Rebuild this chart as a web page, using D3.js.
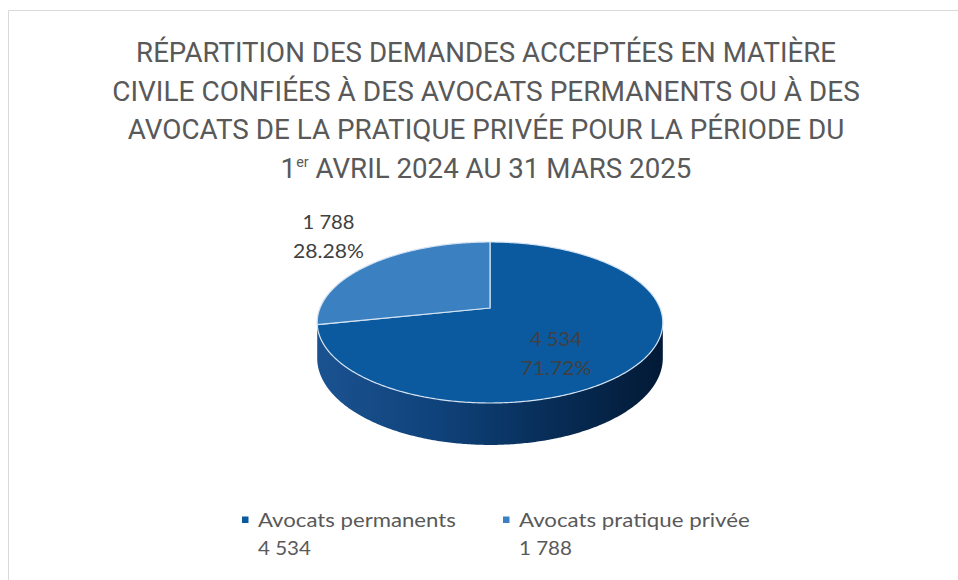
<!DOCTYPE html>
<html>
<head>
<meta charset="utf-8">
<script src="https://cdn.jsdelivr.net/npm/d3@7"></script>
<style>
  body { margin: 0; background: #fff; }
  text { font-family: Lato, "Open Sans", sans-serif; }
</style>
</head>
<body>
<svg id="chart" width="958" height="580"></svg>
<script>
// data
var categories = ["Avocats permanents", "Avocats pratique privée"];
var values = [4534, 1788];
var sliceColors = ["#0b5aa0", "#3b81c2"];
var titleLines = [
  "RÉPARTITION DES DEMANDES ACCEPTÉES EN MATIÈRE",
  "CIVILE CONFIÉES À DES AVOCATS PERMANENTS OU À DES",
  "AVOCATS DE LA PRATIQUE PRIVÉE POUR LA PÉRIODE DU",
  ["1", "er", " AVRIL 2024 AU 31 MARS 2025"]
];

var fr = d3.formatLocale({ decimal: ".", thousands: " ", grouping: [3], currency: ["", ""] });
var fmtNum = fr.format(",d");
var fmtPct = d3.format(".2%");
var total = d3.sum(values);

var svg = d3.select("#chart");

// outer frame (only top and left edges show)
svg.append("path")
  .attr("d", "M8.5,580V10.5H958")
  .attr("fill", "none")
  .attr("stroke", "#d9d9d9")
  .attr("stroke-width", 1);

// squeeze a text horizontally so it fills a given width
function fitWidth(t, x, y, w) {
  var bw = t.node().getBBox().width;
  t.attr("transform", "translate(" + x + "," + y + ") scale(" + (w / bw) + ",1)");
}

// title
var titleX = 486;
var titleBase = [62, 100.7, 139.3, 178];
var titleWidths = [700, 748, 717, 411];
titleLines.forEach(function(line, i) {
  var t = svg.append("text")
    .attr("text-anchor", "middle")
    .style("font-family", "Roboto, sans-serif")
    .style("font-size", "27px")
    .attr("fill", "#595959");
  if (typeof line === "string") {
    t.text(line);
  } else {
    t.append("tspan").text(line[0]);
    t.append("tspan").attr("dy", -11).style("font-size", "14px").text(line[1]);
    t.append("tspan").attr("dy", 11).text(line[2]);
  }
  fitWidth(t, titleX, titleBase[i], titleWidths[i]);
});

// 3d pie with a bit of perspective
var cx = 490, cy = 308, rx = 170, ry = 77.9, persp = 0.18, depth = 34.4;
function project(angle, r, drop) {
  var u = r * Math.sin(angle), v = -r * Math.cos(angle);
  var d = 1 - persp * v;
  return [cx + rx * u / d, cy + (ry * v + (drop || 0)) / d];
}
function arcPoints(a0, a1, drop) {
  var n = Math.max(2, Math.ceil((a1 - a0) / 0.01));
  return d3.range(n + 1).map(function(i) { return project(a0 + (a1 - a0) * i / n, 1, drop); });
}

var pie = d3.pie().sort(null).value(function(d) { return d; });
var arcs = pie(values);
var line = d3.line();

// side shading
var defs = svg.append("defs");
var grad = defs.append("linearGradient")
  .attr("id", "sideGrad")
  .attr("gradientUnits", "userSpaceOnUse")
  .attr("x1", cx - rx).attr("x2", cx + rx).attr("y1", 0).attr("y2", 0);
grad.selectAll("stop")
  .data([[0, "#1a5290"], [0.35, "#0f427a"], [0.7, "#072c55"], [1, "#021a36"]])
  .join("stop")
  .attr("offset", function(d) { return d[0]; })
  .attr("stop-color", function(d) { return d[1]; });

// visible front of the rim
var rimStart = Math.acos(-persp), rimEnd = 2 * Math.PI - Math.acos(-persp);
var gPie = svg.append("g");

arcs.forEach(function(a) {
  var s = Math.max(a.startAngle, rimStart), e = Math.min(a.endAngle, rimEnd);
  if (e <= s) return;
  var top = arcPoints(s, e, 0);
  var bottom = arcPoints(s, e, depth).reverse();
  gPie.append("path")
    .attr("d", line(top.concat(bottom)) + "Z")
    .attr("fill", "url(#sideGrad)");
});

arcs.forEach(function(a, i) {
  var pts = [project(0, 0, 0)].concat(arcPoints(a.startAngle, a.endAngle, 0));
  gPie.append("path")
    .attr("d", line(pts) + "Z")
    .attr("fill", sliceColors[i])
    .attr("stroke", "#d3e2f2")
    .attr("stroke-width", 1.2)
    .attr("stroke-linejoin", "round");
});

// data labels
var labelSpec = [
  { r: 0.5, dx: -4, dy: 12, widths: [52, 71] },
  { r: 1.3, dx: -12, dy: -23, widths: [52, 71] }
];
arcs.forEach(function(a, i) {
  var mid = (a.startAngle + a.endAngle) / 2;
  var p = project(mid, labelSpec[i].r, 0);
  var lx = p[0] + labelSpec[i].dx, ly = p[1] + labelSpec[i].dy;
  [fmtNum(a.data), fmtPct(a.data / total)].forEach(function(txt, j) {
    var t = svg.append("text")
      .attr("text-anchor", "middle")
      .style("font-size", "19.5px")
      .attr("fill", "#404040")
      .text(txt);
    fitWidth(t, lx, ly + j * 29, labelSpec[i].widths[j]);
  });
});

// legend
var legendX = [242, 503];
var legendWidths = [[198, 53], [231, 53]];
categories.forEach(function(c, i) {
  svg.append("rect")
    .attr("x", legendX[i]).attr("y", 516.5)
    .attr("width", 6.5).attr("height", 6.5)
    .attr("fill", sliceColors[i]);
  [c, fmtNum(values[i])].forEach(function(txt, j) {
    var t = svg.append("text")
      .style("font-size", "19px")
      .attr("fill", "#595959")
      .text(txt);
    fitWidth(t, legendX[i] + 16, 527 + j * 28, legendWidths[i][j]);
  });
});
</script>
</body>
</html>
